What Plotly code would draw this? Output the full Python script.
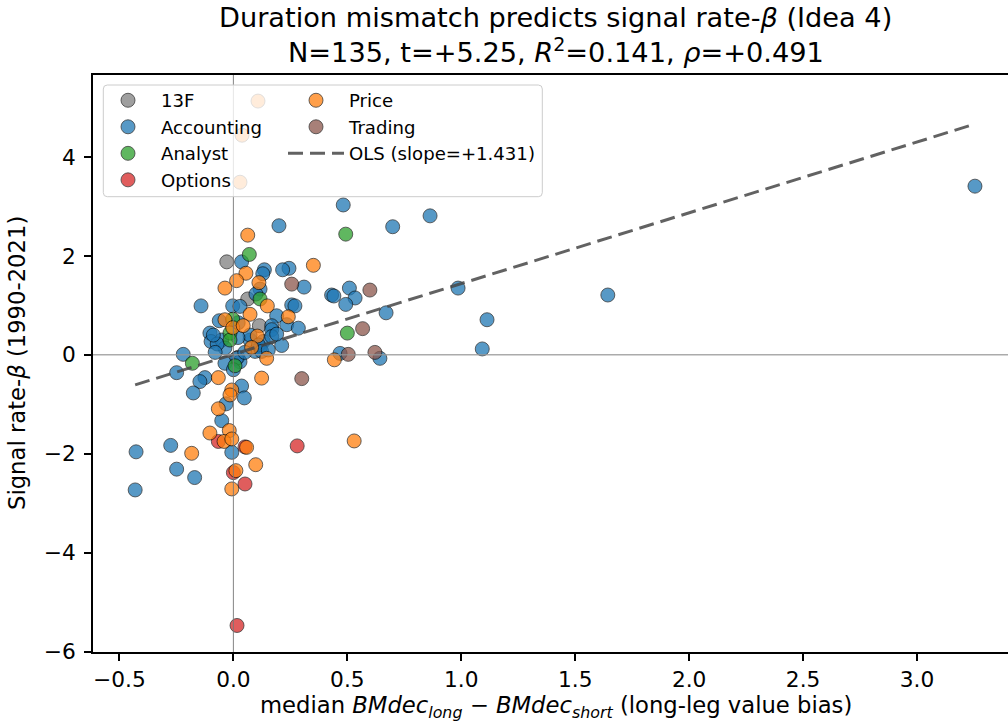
import numpy as np
import plotly.graph_objects as go

# ---------------- data ----------------
CATEGORIES = ["13F", "Accounting", "Analyst", "Options", "Price", "Trading"]

x_13f = [-0.029, 0.063, 0.114, 0.02]
y_13f = [1.88, 1.13, 0.59, -0.05]

x_accounting = [3.254, 1.643, 0.986, 1.113, 1.092, -0.427, -0.431, 0.482, 0.699, 0.863,
                0.200, 0.244, 0.216, 0.310, 0.431, 0.441, 0.509, 0.534, 0.493, 0.670,
                0.256, 0.270, 0.234, 0.285, 0.212, 0.468, 0.643, 0.036, 0.136, 0.129,
                0.117, 0.099, -0.142, -0.003, 0.029, 0.190, -0.062, 0.168, 0.168, -0.103,
                -0.098, 0.131, 0.021, -0.051, 0.073, 0.117, -0.037, -0.071, 0.095, 0.029,
                0.014, -0.037, -0.220, -0.249, -0.125, -0.147, -0.176, 0.036, 0.048, -0.032,
                -0.051, -0.275, -0.007, -0.249, -0.170, 0.000, -0.088, 0.073, 0.110, 0.124,
                0.153, 0.168, -0.080, 0.050, 0.020, 0.190]
y_accounting = [3.41, 1.21, 1.35, 0.71, 0.12, -1.96, -2.73, 3.03, 2.59, 2.81,
                2.61, 1.75, 1.72, 1.37, 1.21, 1.19, 1.35, 1.15, 1.02, 0.85,
                1.01, 0.99, 0.61, 0.54, 0.19, 0.03, -0.07, 1.88, 1.72, 1.64,
                1.33, 1.23, 0.99, 0.99, 0.98, 0.79, 0.69, 0.59, 0.51, 0.44,
                0.27, 0.27, 0.65, 0.30, 0.30, 0.14, 0.14, 0.22, 0.07, -0.14,
                -0.07, -0.17, 0.01, -0.36, -0.46, -0.54, -0.77, -0.63, -0.87, -0.99,
                -1.33, -1.83, -1.97, -2.31, -2.48, -0.30, 0.40, 0.40, 0.20, 0.07,
                0.10, 0.37, 0.05, 0.05, 0.35, 0.42]

x_analyst = [0.493, 0.500, 0.070, 0.117, -0.003, -0.015, -0.015, -0.180, 0.007]
y_analyst = [2.44, 0.44, 2.03, 1.13, 0.72, 0.44, 0.30, -0.17, -0.22]

x_options = [0.280, -0.066, 0.051, 0.000, 0.051, 0.016]
y_options = [-1.84, -1.75, -1.86, -2.38, -2.61, -5.47]

x_price = [0.351, 0.241, 0.443, 0.530, 0.063, 0.055, 0.014, 0.112, -0.037, 0.149,
           0.073, -0.037, -0.003, 0.043, 0.105, 0.146, -0.066, 0.124, -0.007, -0.015,
           -0.066, -0.103, -0.018, -0.041, -0.007, -0.183, 0.058, 0.098, 0.011, -0.007,
           0.108, 0.038, 0.029, 0.080]
y_price = [1.81, 0.77, -0.10, -1.74, 2.42, 1.65, 1.50, 1.46, 1.35, 0.99,
           0.82, 0.71, 0.55, 0.59, 0.38, -0.07, -0.46, -0.47, -0.71, -0.81,
           -1.09, -1.58, -1.53, -1.75, -1.70, -1.99, -1.87, -2.22, -2.34, -2.71,
           5.13, 4.44, 3.49, 0.15]

x_trading = [0.256, 0.599, 0.567, 0.504, 0.621, 0.300]
y_trading = [1.43, 1.31, 0.53, 0.01, 0.05, -0.48]

OLS_SLOPE = 1.431
OLS_INTERCEPT = 0.01

TITLE_LINE1 = "Duration mismatch predicts signal rate-<i>β</i> (Idea 4)"
TITLE_LINE2 = "N=135, t=+5.25, <i>R</i><sup>2</sup>=0.141, <i>ρ</i>=+0.491"
X_LABEL = ("median <i>BMdec</i><sub><i>long</i></sub> − <i>BMdec</i><sub><i>short</i></sub>"
           " (long-leg value bias)")
Y_LABEL = "Signal rate-<i>β</i> (1990-2021)"

X_TICKS = [-0.5, 0.0, 0.5, 1.0, 1.5, 2.0, 2.5, 3.0]
X_TICK_LABELS = ["−0.5", "0.0", "0.5", "1.0", "1.5", "2.0", "2.5", "3.0"]
Y_TICKS = [-6, -4, -2, 0, 2, 4]
Y_TICK_LABELS = ["−6", "−4", "−2", "0", "2", "4"]

# ---------------- styling ----------------
COLORS = {"13F": "#7f7f7f", "Accounting": "#1f77b4", "Analyst": "#2ca02c",
          "Options": "#d62728", "Price": "#ff7f0e", "Trading": "#8c564b"}
FONT = "DejaVu Sans"
W, H = 1008, 727
ML, MR, MT, MB = 93, 0, 75, 75
X_RANGE = [-0.616, 3.399]
Y_RANGE = [-6.006, 5.657]

series = {
    "13F": (x_13f, y_13f),
    "Accounting": (x_accounting, y_accounting),
    "Analyst": (x_analyst, y_analyst),
    "Options": (x_options, y_options),
    "Price": (x_price, y_price),
    "Trading": (x_trading, y_trading),
}

fig = go.Figure()
for cat in CATEGORIES:
    xs, ys = series[cat]
    fig.add_trace(go.Scatter(
        x=xs, y=ys, mode="markers", name=cat,
        legend="legend" if cat in ("13F", "Accounting", "Analyst", "Options") else "legend2",
        marker=dict(size=14, color=COLORS[cat], opacity=0.75,
                    line=dict(color="black", width=0.8)),
    ))

all_x = np.concatenate([np.asarray(series[c][0]) for c in CATEGORIES])
x_line = np.linspace(all_x.min(), all_x.max(), 50)
y_line = OLS_INTERCEPT + OLS_SLOPE * x_line
fig.add_trace(go.Scatter(
    x=x_line, y=y_line, mode="lines", name=f"OLS (slope=+{OLS_SLOPE:.3f})",
    legend="legend2",
    line=dict(color="rgba(70,70,70,0.85)", width=3, dash="15px,7px"),
))

pw = W - ML - MR
ph = H - MT - MB

def px_to_paper_x(px):
    return (px - ML) / pw

def py_to_paper_y(py):
    return 1 - (py - MT) / ph

shapes = [
    dict(type="line", xref="paper", yref="y", x0=0, x1=1, y0=0, y1=0,
         line=dict(color="rgba(150,150,150,0.8)", width=1.5), layer="above"),
    dict(type="line", xref="x", yref="paper", x0=0, x1=0, y0=0, y1=1,
         line=dict(color="rgba(120,120,120,0.9)", width=1), layer="above"),
]
# legend frame (rounded, semi-transparent white)
L, R, T, B, r = 10.3, 449.3, -10.0, -121.7, 4
path = (f"M {L+r},{T} L {R-r},{T} Q {R},{T} {R},{T-r} L {R},{B+r} Q {R},{B} {R-r},{B} "
        f"L {L+r},{B} Q {L},{B} {L},{B+r} L {L},{T-r} Q {L},{T} {L+r},{T} Z")
shapes.append(dict(type="path", xref="paper", yref="paper", xsizemode="pixel",
                   ysizemode="pixel", xanchor=0, yanchor=1, path=path,
                   fillcolor="rgba(255,255,255,0.8)",
                   line=dict(color="rgba(204,204,204,1)", width=1), layer="above"))

TITLE_X = px_to_paper_x(555.8)
annotations = [
    dict(text=TITLE_LINE1, xref="paper", yref="paper", x=TITLE_X, y=1,
         xanchor="center", yanchor="middle", yshift=MT - 17, showarrow=False,
         font=dict(family=FONT, size=27.2, color="black")),
    dict(text=TITLE_LINE2, xref="paper", yref="paper", x=TITLE_X, y=1,
         xanchor="center", yanchor="middle", yshift=MT - 50, showarrow=False,
         font=dict(family=FONT, size=27.2, color="black")),
    dict(text=X_LABEL, xref="paper", yref="paper", x=TITLE_X, y=0,
         xanchor="center", yanchor="middle", yshift=-(707 - (H - MB)), showarrow=False,
         font=dict(family=FONT, size=22.7, color="black")),
    dict(text=Y_LABEL, xref="paper", yref="paper", x=0, y=py_to_paper_y(363),
         xanchor="center", yanchor="middle", xshift=-(ML - 17), showarrow=False,
         textangle=-90, font=dict(family=FONT, size=22.7, color="black")),
]

axis_common = dict(
    showline=True, linecolor="black", linewidth=1.7, ticks="outside",
    ticklen=7, tickwidth=1.7, tickcolor="black", showgrid=False, zeroline=False,
    automargin=False,
    tickfont=dict(family=FONT, size=21.7, color="black"),
)

LEGEND_FONT = dict(family=FONT, size=18.1, color="black")
fig.update_layout(
    width=W, height=H,
    margin=dict(l=ML, r=MR, t=MT, b=MB, autoexpand=False),
    paper_bgcolor="white", plot_bgcolor="white",
    font=dict(family=FONT, color="black"),
    xaxis=dict(range=X_RANGE, tickvals=X_TICKS, ticktext=X_TICK_LABELS, mirror=True,
               **axis_common),
    yaxis=dict(range=Y_RANGE, tickvals=Y_TICKS, ticktext=Y_TICK_LABELS, mirror=False,
               ticklabelstandoff=4, **axis_common),
    shapes=shapes,
    annotations=annotations,
    legend=dict(x=px_to_paper_x(95), y=py_to_paper_y(82), xanchor="left", yanchor="top",
                bgcolor="rgba(0,0,0,0)", borderwidth=0, itemwidth=56,
                font=LEGEND_FONT, tracegroupgap=0),
    legend2=dict(x=px_to_paper_x(283), y=py_to_paper_y(82), xanchor="left", yanchor="top",
                 bgcolor="rgba(0,0,0,0)", borderwidth=0, itemwidth=56,
                 font=LEGEND_FONT, tracegroupgap=0),
)

fig.write_html(
    "out.html",
    config={"displayModeBar": False},
    post_script="document.body.style.margin='0px';document.body.style.overflow='hidden';",
)
